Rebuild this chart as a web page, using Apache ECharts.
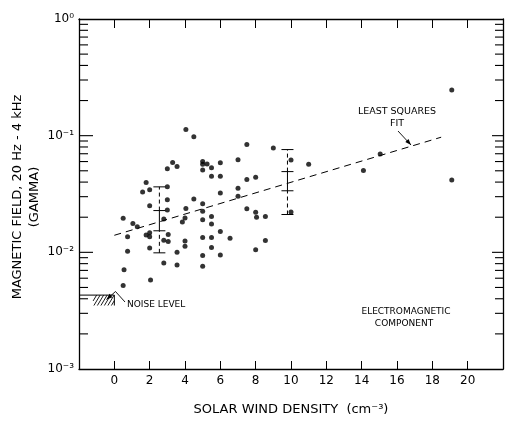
<!DOCTYPE html>
<html>
<head>
<meta charset="utf-8">
<script src="https://cdn.jsdelivr.net/npm/echarts@6/dist/echarts.min.js"></script>
<style>
  html, body { margin: 0; padding: 0; background: #fff; }
  #main { width: 508px; height: 421px; }
</style>
</head>
<body>
<div id="main"></div>
<script>
// solar wind density (cm^-3) and field amplitude (gamma)
const density = [
  0.5, 0.75, 0.75, 0.55, 0.5, 1.05, 1.3, 1.8, 1.6, 2.0,
  2.0, 1.8, 2.0, 2.0, 2.0, 2.05, 3.0, 3.3, 3.55, 3.0,
  3.0, 3.0, 2.8, 3.05, 2.8, 3.05, 3.55, 2.8, 3.55, 4.05,
  4.5, 4.5, 4.05, 4.0, 3.85, 4.0, 4.0, 5.0, 5.0, 5.25,
  5.0, 5.0, 5.0, 5.0, 5.0, 5.0, 5.0, 5.5, 5.5, 5.5,
  5.5, 5.5, 5.5, 6.0, 6.0, 6.0, 6.0, 6.0, 6.55, 7.0,
  7.0, 7.0, 7.5, 7.5, 7.5, 8.0, 8.0, 8.05, 8.55, 8.55,
  8.0, 9.0, 10.0, 10.0, 11.0, 14.1, 15.05, 19.1, 19.1
]
const field = [
  0.0196, 0.0136, 0.0102, 0.0071, 0.0052, 0.0177, 0.0166, 0.0396, 0.0329, 0.0344,
  0.0251, 0.0141, 0.0147, 0.0136, 0.0109, 0.0058, 0.052, 0.0588, 0.0544, 0.0364,
  0.0282, 0.0231, 0.0193, 0.0142, 0.0127, 0.0124, 0.0100, 0.0081, 0.0078, 0.113,
  0.098, 0.0287, 0.0238, 0.0197, 0.0182, 0.0125, 0.0113, 0.060, 0.057, 0.0573,
  0.0508, 0.0261, 0.0225, 0.019, 0.0134, 0.0094, 0.0076, 0.0531, 0.045, 0.0203,
  0.0175, 0.0134, 0.011, 0.0585, 0.045, 0.0322, 0.0151, 0.0095, 0.0132, 0.0623,
  0.0355, 0.0303, 0.0841, 0.0422, 0.0236, 0.0441, 0.0221, 0.020, 0.0203, 0.0126,
  0.0105, 0.0784, 0.0619, 0.0222, 0.057, 0.0504, 0.0695, 0.246, 0.0416
]

// error bars: outer (dashed) and inner (solid) ranges
const errX = [2.55, 9.8]
const errOuterLo = [0.0099, 0.0211]
const errInnerLo = [0.0153, 0.0337]
const errInnerHi = [0.0228, 0.0492]
const errOuterHi = [0.0364, 0.076]

// least squares fit end points
const fitX = [0, 18.5]
const fitY = [0.014, 0.097]

// noise level box
const noiseX = [-2, 0]
const noiseHatchFrom = -1.2
const noiseTop = 0.0043
const noiseBottom = 0.0035

const xTicks = [0, 2, 4, 6, 8, 10, 12, 14, 16, 18, 20]
const decades = [0.001, 0.01, 0.1]
const minorSteps = [2, 3, 4, 5, 6, 7, 8, 9]
const majorTicks = [0.01, 0.1]

const FONT = 'DejaVu Sans'
const sup = { '0': '⁰', '1': '¹', '2': '²', '3': '³', '-': '⁻' }
const toSup = (s) => String(s).split('').map((c) => sup[c]).join('')

var chartDom = document.getElementById('main')
var myChart = echarts.init(chartDom)

const points = density.map((d, i) => [d, field[i]])
const errData = errX.map((x, i) => [x, errOuterLo[i], errInnerLo[i], errInnerHi[i], errOuterHi[i]])
const minorVals = []
decades.forEach((d) => {
  minorSteps.forEach((k) => {
    minorVals.push(d * k)
  })
})

const hatch = (x0, y0, x1, y1, step, slope) => {
  const out = []
  for (let s = x0 - (y1 - y0) * slope; s < x1; s += step) {
    let ax = s, ay = y1
    let bx = s + (y1 - y0) * slope, by = y0
    if (ax < x0) { ay = y1 - (x0 - ax) / slope; ax = x0 }
    if (bx > x1) { by = y0 + (bx - x1) / slope; bx = x1 }
    if (ax < bx) {
      out.push({ type: 'line', shape: { x1: ax, y1: ay, x2: bx, y2: by }, style: { stroke: '#000', lineWidth: 0.9 } })
    }
  }
  return out
}

const hline = (x1, x2, y) => ({ type: 'line', shape: { x1: x1, y1: y, x2: x2, y2: y }, style: { stroke: '#000', lineWidth: 1.1 } })

const arrow = (pts) => {
  // polyline with a filled head at its last point
  const n = pts.length
  const [ex, ey] = pts[n - 1]
  const [sx, sy] = pts[n - 2]
  const a = Math.atan2(ey - sy, ex - sx)
  const L = 6, W = 2.2
  const bx = ex - L * Math.cos(a), by = ey - L * Math.sin(a)
  return [
    { type: 'polyline', shape: { points: pts }, style: { stroke: '#000', lineWidth: 0.9, fill: null } },
    {
      type: 'polygon',
      shape: { points: [[ex, ey], [bx - W * Math.sin(a), by + W * Math.cos(a)], [bx + W * Math.sin(a), by - W * Math.cos(a)]] },
      style: { fill: '#000' },
    },
  ]
}

const txt = (text, x, y, size, align, extra) => Object.assign({
  type: 'text', x: x, y: y,
  style: { text: text, fontSize: size, fontFamily: FONT, fill: '#000', align: align, verticalAlign: 'middle' },
}, extra || {})

const axisLine = { onZero: false, lineStyle: { color: '#000', width: 1.3 } }

var option = {
  animation: false,
  backgroundColor: '#fff',
  grid: { left: 79, right: 5, top: 19, bottom: 42 },
  xAxis: [
    {
      type: 'value', min: -2, max: 22, interval: 2,
      axisLine: axisLine,
      axisTick: { inside: true, length: 8, lineStyle: { color: '#000', width: 1 } },
      axisLabel: {
        color: '#000', fontFamily: FONT, fontSize: 12, margin: 6,
        formatter: (v) => (xTicks.indexOf(v) >= 0 ? String(v) : ''),
      },
      splitLine: { show: false },
      name: 'SOLAR WIND DENSITY  (cm' + toSup(-3) + ')',
      nameLocation: 'middle', nameGap: 34,
      nameTextStyle: { color: '#000', fontFamily: FONT, fontSize: 13 },
    },
    {
      type: 'value', position: 'top', min: -2, max: 22, interval: 2,
      axisLine: axisLine,
      axisTick: { inside: true, length: 9, lineStyle: { color: '#000', width: 1 } },
      axisLabel: { show: false },
      splitLine: { show: false },
    },
  ],
  yAxis: [
    {
      type: 'log', logBase: 10, min: 0.001, max: 1,
      axisLine: axisLine,
      axisTick: { show: false },
      axisLabel: {
        color: '#000', fontFamily: FONT, fontSize: 12, margin: 5,
        formatter: (v) => '10' + toSup(Math.round(Math.log10(v))),
      },
      splitLine: { show: false },
    },
    {
      type: 'log', logBase: 10, min: 0.001, max: 1, position: 'right',
      axisLine: axisLine,
      axisTick: { show: false },
      axisLabel: { show: false },
      splitLine: { show: false },
    },
  ],
  series: [
    {
      type: 'scatter',
      data: points,
      symbol: 'circle',
      symbolSize: 5,
      itemStyle: { color: '#000' },
      z: 5,
    },
    {
      type: 'line',
      data: fitX.map((x, i) => [x, fitY[i]]),
      symbol: 'none',
      lineStyle: { color: '#000', width: 1, type: [7, 5] },
    },
    {
      // error bars
      type: 'custom',
      data: errData,
      encode: { x: 0, y: [1, 2, 3, 4] },
      renderItem: (params, api) => {
        const x = api.value(0)
        const p = [1, 2, 3, 4].map((k) => api.coord([x, api.value(k)]))
        const cx = p[0][0]
        const c = []
        p.forEach((q) => {
          c.push({ type: 'line', shape: { x1: cx - 6, y1: q[1], x2: cx + 6, y2: q[1] }, style: { stroke: '#000', lineWidth: 1 } })
        })
        const dash = { stroke: '#000', lineWidth: 1, lineDash: [4, 3] }
        c.push({ type: 'line', shape: { x1: cx, y1: p[0][1], x2: cx, y2: p[1][1] }, style: dash })
        c.push({ type: 'line', shape: { x1: cx, y1: p[2][1], x2: cx, y2: p[3][1] }, style: dash })
        c.push({ type: 'line', shape: { x1: cx, y1: p[1][1], x2: cx, y2: p[2][1] }, style: { stroke: '#000', lineWidth: 1 } })
        return { type: 'group', children: c }
      },
    },
    {
      // noise level box, plus the log-axis ticks on both frame edges
      type: 'custom',
      data: [[noiseX[0], noiseTop]],
      encode: { x: 0, y: 1 },
      renderItem: (params, api) => {
        const tl = api.coord([noiseX[0], noiseTop])
        const tr = api.coord([noiseX[1], noiseTop])
        const br = api.coord([noiseX[1], noiseBottom])
        const hx = api.coord([noiseHatchFrom, noiseTop])[0]
        const c = hatch(hx, tr[1], tr[0], br[1], 3.5, 0.6)
        c.push({ type: 'polyline', shape: { points: [tl, tr, br] }, style: { stroke: '#000', lineWidth: 1, fill: null } })
        const addTick = (v, ll, rl) => {
          const l = api.coord([-2, v])
          const r = api.coord([22, v])
          c.push(hline(l[0], l[0] + ll, l[1]))
          c.push(hline(r[0] - rl, r[0], r[1]))
        }
        minorVals.forEach((v) => addTick(v, 9, 8))
        majorTicks.forEach((v) => addTick(v, 14, 11))
        return { type: 'group', children: c }
      },
    },
  ],
  graphic: [
    txt('MAGNETIC FIELD, 20 Hz - 4 kHz', 18, 197, 13, 'center', { rotation: Math.PI / 2 }),
    txt('(GAMMA)', 35, 197, 13, 'center', { rotation: Math.PI / 2 }),
    txt('LEAST SQUARES', 397, 112, 9.5, 'center'),
    txt('FIT', 397, 124, 9.5, 'center'),
    txt('NOISE LEVEL', 127, 305, 9, 'left'),
    txt('ELECTROMAGNETIC', 406, 312, 9, 'center'),
    txt('COMPONENT', 404, 324, 9, 'center'),
  ]
    .concat(arrow([[398, 131], [411, 145]]))
    .concat(arrow([[125, 302], [115.5, 291.5], [106.5, 299.5]])),
}

option && myChart.setOption(option)
</script>
</body>
</html>
